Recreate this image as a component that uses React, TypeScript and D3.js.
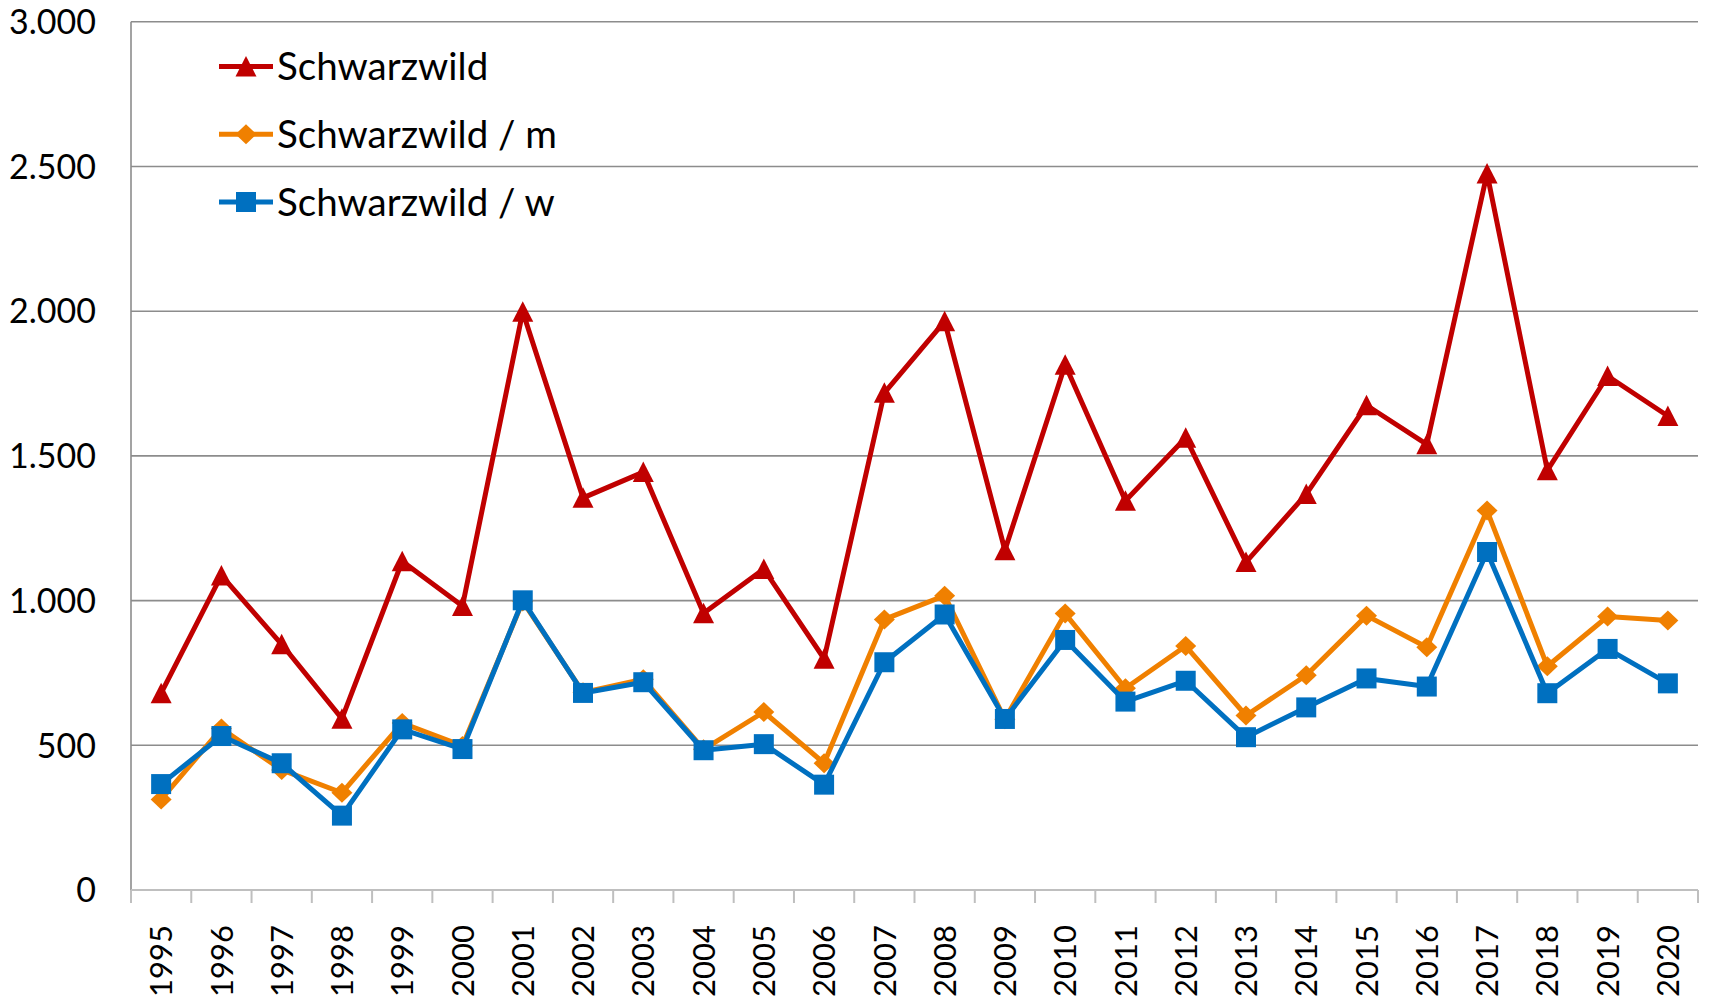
import React, { useEffect, useRef } from 'react';
import * as d3 from 'd3';

const years = ['1995','1996','1997','1998','1999','2000','2001','2002','2003','2004','2005','2006','2007','2008','2009','2010','2011','2012','2013','2014','2015','2016','2017','2018','2019','2020'];
const schwarzwild = [680,1087,849,592,1136,981,1998,1355,1444,956,1109,799,1718,1965,1174,1815,1345,1563,1133,1368,1675,1540,2476,1450,1776,1638];
const schwarzwildM = [313,558,415,336,577,498,997,683,728,486,615,438,935,1017,590,955,697,843,603,742,948,839,1311,773,945,931];
const schwarzwildW = [366,532,438,257,555,487,1001,681,718,483,504,364,787,952,591,864,651,723,528,631,731,703,1168,680,833,714];
const yTicks = [0,500,1000,1500,2000,2500,3000];
const seriesNames = ['Schwarzwild','Schwarzwild / m','Schwarzwild / w'];
const seriesColors = ['#C00000','#F08000','#0070C0'];

const W = 1712, H = 1002;
const M = { left: 131, right: 1698, top: 21.8, bottom: 890 };

// marker outlines (relative to point)
const markerPaths = [
  'M0,-10.5L10.5,10L-10.5,10Z',
  'M0,-10L10.5,0L0,10L-10.5,0Z',
  'M-10,-10H10V10H-10Z',
];

export default function App() {
  const ref = useRef<SVGSVGElement>(null);
  useEffect(() => {
    const svg = d3.select(ref.current);
    svg.selectAll('*').remove();
    const font = 'Lato, "Open Sans", sans-serif';
    const x = d3.scaleBand<string>().domain(years).range([M.left, M.right]).padding(0);
    const y = d3.scaleLinear().domain([0, 3000]).range([M.bottom, M.top]);
    const fmt = d3.formatLocale({ decimal: ',', thousands: '.', grouping: [3], currency: ['', '€'] }).format(',d');

    // gridlines
    svg.append('g').selectAll('line').data(yTicks.filter(t => t > 0)).join('line')
      .attr('x1', M.left).attr('x2', M.right)
      .attr('y1', d => y(d)).attr('y2', d => y(d))
      .attr('stroke', '#8C8C8C').attr('stroke-width', 1.6);

    // y labels
    svg.append('g').selectAll('text').data(yTicks).join('text')
      .attr('x', 96).attr('y', d => y(d)).attr('dy', '0.36em')
      .attr('text-anchor', 'end').attr('font-family', font).attr('font-size', 34)
      .attr('fill', '#000').text(d => fmt(d));

    // left axis
    svg.append('line').attr('x1', M.left).attr('x2', M.left).attr('y1', M.top).attr('y2', M.bottom)
      .attr('stroke', '#8C8C8C').attr('stroke-width', 1.6);

    // bottom axis
    svg.append('line').attr('x1', M.left).attr('x2', M.right).attr('y1', M.bottom).attr('y2', M.bottom)
      .attr('stroke', '#BFBFBF').attr('stroke-width', 2);
    const boundaries = years.map(d => x(d) as number).concat([M.right]);
    svg.append('g').selectAll('line').data(boundaries).join('line')
      .attr('x1', d => d).attr('x2', d => d).attr('y1', M.bottom).attr('y2', M.bottom + 13)
      .attr('stroke', '#BFBFBF').attr('stroke-width', 2);

    // x labels
    svg.append('g').selectAll('text').data(years).join('text')
      .attr('transform', d => `translate(${(x(d) as number) + x.bandwidth() / 2},925) rotate(-90)`)
      .attr('dy', '0.36em').attr('text-anchor', 'end')
      .attr('font-family', font).attr('font-size', 31).attr('fill', '#000').text(d => d);

    const cx = (d: string) => (x(d) as number) + x.bandwidth() / 2;
    const allSeries = [schwarzwild, schwarzwildM, schwarzwildW];
    allSeries.forEach((vals, i) => {
      const line = d3.line<number>().x((_, j) => cx(years[j])).y(v => y(v));
      svg.append('path').datum(vals).attr('d', line).attr('fill', 'none')
        .attr('stroke', seriesColors[i]).attr('stroke-width', 5).attr('stroke-linejoin', 'round');
      svg.append('g').selectAll('path').data(vals).join('path')
        .attr('d', markerPaths[i])
        .attr('transform', (v, j) => `translate(${cx(years[j])},${y(v)})`)
        .attr('fill', seriesColors[i]);
    });

    // legend
    const legendY = [66.6, 134.3, 202];
    seriesNames.forEach((name, i) => {
      const g = svg.append('g');
      g.append('line').attr('x1', 219).attr('x2', 273).attr('y1', legendY[i]).attr('y2', legendY[i])
        .attr('stroke', seriesColors[i]).attr('stroke-width', 5);
      g.append('path').attr('d', markerPaths[i])
        .attr('transform', `translate(246,${legendY[i]})`).attr('fill', seriesColors[i]);
      g.append('text').attr('x', 277).attr('y', legendY[i]).attr('dy', '0.36em')
        .attr('font-family', font).attr('font-size', 38.5).attr('fill', '#000').text(name);
    });
  }, []);
  return (
    <svg ref={ref} width={W} height={H} style={{ position: 'absolute', left: 0, top: 0, background: '#fff' }} />
  );
}
